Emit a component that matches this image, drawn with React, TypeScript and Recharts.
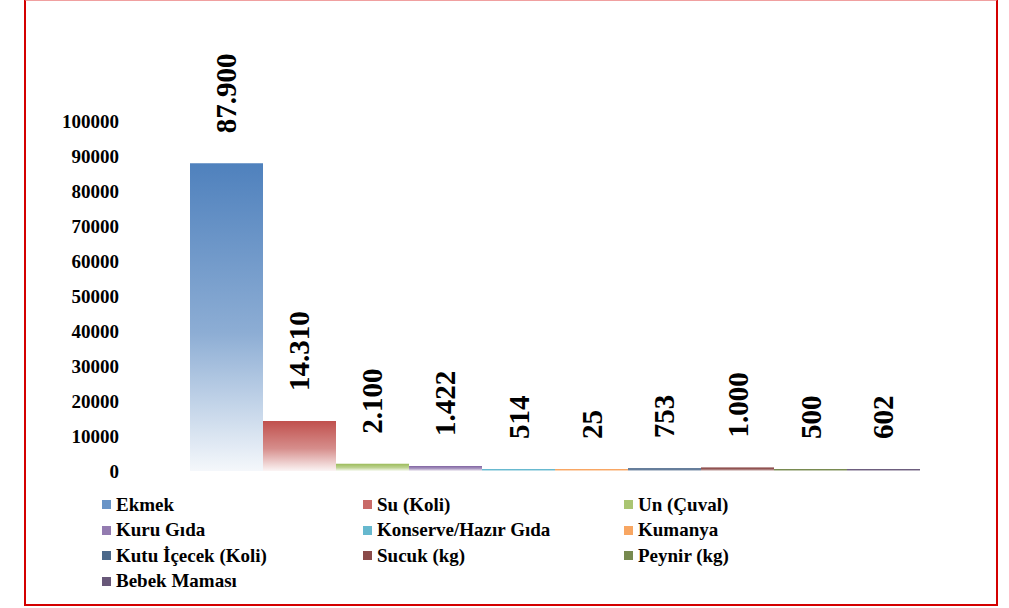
import React from 'react';
import { BarChart, Bar, XAxis, YAxis, LabelList } from 'recharts';

// Yardım malzemeleri — one bar per item, single category
const SERIES = [
  'Ekmek',
  'Su (Koli)',
  'Un (Çuval)',
  'Kuru Gıda',
  'Konserve/Hazır Gıda',
  'Kumanya',
  'Kutu İçecek (Koli)',
  'Sucuk (kg)',
  'Peynir (kg)',
  'Bebek Maması',
];
const VALUES = [87900, 14310, 2100, 1422, 514, 25, 753, 1000, 500, 602];
const VALUE_LABELS = ['87.900', '14.310', '2.100', '1.422', '514', '25', '753', '1.000', '500', '602'];
const COLORS = [
  '#4f81bd', '#c0504d', '#9bbb59', '#8064a2', '#4bacc6',
  '#f79646', '#2c4d75', '#772c2a', '#5f7530', '#4d3b62',
];
const Y_TICKS = [0, 10000, 20000, 30000, 40000, 50000, 60000, 70000, 80000, 90000, 100000];

const FONT = 'Liberation Serif, Times New Roman, serif';

const row: Record<string, string | number> = { name: '' };
SERIES.forEach((s, i) => {
  row['s' + i] = VALUES[i];
});
const data = [row];

const makeLabel = (idx: number) => (props: any) => {
  const { x, y, width } = props;
  const cx = Number(x) + Number(width) / 2;
  const by = Number(y) - 30;
  return (
    <text
      x={cx}
      y={by}
      transform={`rotate(-90 ${cx} ${by})`}
      textAnchor="start"
      dominantBaseline="central"
      fontFamily={FONT}
      fontWeight="bold"
      fontSize={29}
      fill="#000"
    >
      {VALUE_LABELS[idx]}
    </text>
  );
};

function LegendGrid() {
  return (
    <div
      style={{
        position: 'absolute',
        left: 102,
        top: 492,
        display: 'grid',
        gridTemplateColumns: '261px 261px 261px',
        gridAutoRows: '25.5px',
        fontFamily: FONT,
        fontWeight: 'bold',
        fontSize: 19,
        color: '#000',
      }}
    >
      {SERIES.map((s, i) => (
        <div key={s} style={{ display: 'flex', alignItems: 'center', whiteSpace: 'nowrap' }}>
          <svg width={9} height={9} style={{ marginRight: 5 }}>
            <rect width={9} height={9} fill={COLORS[i]} opacity={0.85} />
          </svg>
          <span>{s}</span>
        </div>
      ))}
    </div>
  );
}

export default function App() {
  return (
    <div style={{ position: 'fixed', left: 0, top: 0, width: 1009, height: 608, background: '#fff' }}>
      <div
        style={{
          position: 'absolute',
          left: 24,
          top: -1,
          width: 970,
          height: 603,
          border: '2px solid #d40000',
          borderTopColor: '#f0a0a0',
        }}
      />
      <div style={{ position: 'absolute', left: 0, top: 0 }}>
        <BarChart
          width={1009}
          height={608}
          data={data}
          margin={{ top: 121, right: 92, bottom: 137, left: 110 }}
          barCategoryGap={0}
          barGap={0}
        >
          <defs>
            {COLORS.map((c, i) => (
              <linearGradient key={i} id={`grad${i}`} x1="0" y1="0" x2="0" y2="1">
                <stop offset="0%" stopColor={c} stopOpacity={1} />
                <stop offset="55%" stopColor={c} stopOpacity={0.65} />
                <stop offset="100%" stopColor={c} stopOpacity={0.06} />
              </linearGradient>
            ))}
          </defs>
          <XAxis dataKey="name" hide />
          <YAxis
            width={80}
            domain={[0, 100000]}
            ticks={Y_TICKS}
            interval={0}
            axisLine={false}
            tickLine={false}
            tickSize={0}
            tickMargin={71}
            tick={{ fontFamily: FONT, fontWeight: 'bold', fontSize: 19, fill: '#000' }}
          />
          {SERIES.map((s, i) => (
            <Bar
              key={s}
              dataKey={'s' + i}
              name={s}
              fill={`url(#grad${i})`}
              minPointSize={2}
              isAnimationActive={false}
            >
              <LabelList dataKey={'s' + i} content={makeLabel(i)} />
            </Bar>
          ))}
        </BarChart>
      </div>
      <LegendGrid />
    </div>
  );
}
